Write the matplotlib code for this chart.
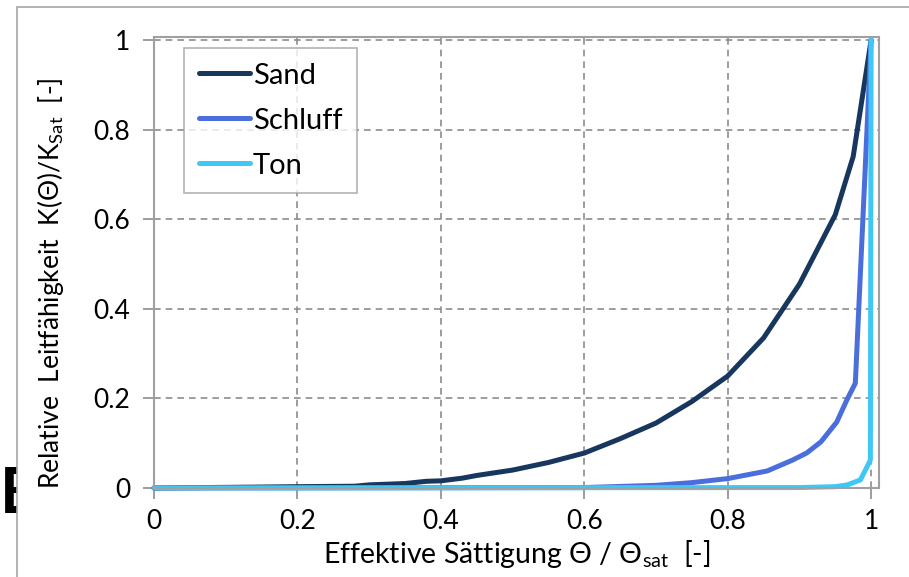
import matplotlib
matplotlib.use("Agg")
import matplotlib.pyplot as plt
from matplotlib.patches import Rectangle

plt.rcParams['font.family'] = ['Lato', 'DejaVu Sans']

# Data
sand_x = [0, 0.14, 0.2, 0.28, 0.3, 0.35, 0.38, 0.4, 0.43, 0.45, 0.5, 0.55, 0.6,
          0.65, 0.7, 0.75, 0.8, 0.85, 0.9, 0.95, 0.975, 1.0]
sand_y = [0, 0.002, 0.003, 0.004, 0.007, 0.01, 0.015, 0.016, 0.022, 0.028, 0.04,
          0.057, 0.078, 0.11, 0.145, 0.193, 0.25, 0.335, 0.455, 0.61, 0.74, 1.0]
schluff_x = [0, 0.6, 0.7, 0.75, 0.8, 0.855, 0.89, 0.91, 0.93, 0.952, 0.966, 0.978, 1.0]
schluff_y = [0, 0.001, 0.006, 0.012, 0.021, 0.038, 0.062, 0.078, 0.103, 0.147, 0.196, 0.234, 1.0]
ton_x = [0, 0.9, 0.95, 0.967, 0.985, 0.992, 0.999, 1.0]
ton_y = [0, 0.001, 0.003, 0.007, 0.018, 0.04, 0.0625, 1.0]

series_names = ['Sand', 'Schluff', 'Ton']
colors = ['#17375E', '#4A6FDC', '#3FC8F6']
ticks = [0, 0.2, 0.4, 0.6, 0.8, 1.0]
tick_labels = ['0', '0.2', '0.4', '0.6', '0.8', '1']

W, H = 909, 577
fig = plt.figure(figsize=(W / 100, H / 100), dpi=100)

# stray glyph at the far left, partly covered by the chart frame
fig.text(0 / W, 1 - 513 / H, 'E', fontsize=46, fontweight='bold', color='black',
         family='Lato', ha='left', va='baseline', zorder=-3)
# outer chart frame
fig.patches.append(Rectangle((17 / W, -0.1), 1.2, 1 - 7 / H + 0.1,
                             transform=fig.transFigure, facecolor='white',
                             edgecolor='#A6A6A6', linewidth=1.2, zorder=-2))

ax = fig.add_axes([154 / W, (H - 488) / H, (879 - 154) / W, (488 - 37) / H])
ax.set_facecolor('none')

for xs, ys, c, n in zip([sand_x, schluff_x, ton_x], [sand_y, schluff_y, ton_y],
                        colors, series_names):
    ax.plot(xs, ys, color=c, lw=3.6, label=n, solid_capstyle='round',
            solid_joinstyle='round', clip_on=False)

ax.set_xlim(0, 1.011)
ax.set_ylim(0, 1.007)
ax.set_xticks(ticks)
ax.set_xticklabels(tick_labels)
ax.set_yticks(ticks)
ax.set_yticklabels(tick_labels)
ax.tick_params(axis='both', direction='out', length=8, width=1.2, color='#8C8C8C',
               labelsize=19, labelcolor='black')
ax.tick_params(axis='x', pad=7)
ax.tick_params(axis='y', pad=9)

for x in ticks[1:]:
    ax.axvline(x, color='#8C8C8C', lw=1.2, ls=(0, (4, 3)), zorder=0.5)
for y in ticks[1:]:
    ax.axhline(y, color='#8C8C8C', lw=1.2, ls=(0, (4, 3)), zorder=0.5)

for s in ax.spines.values():
    s.set_color('#A0A0A0')
    s.set_linewidth(1.5)

ax.set_xlabel('Effektive Sättigung Θ / Θ$_{\\mathregular{sat}}$  [-]', fontsize=20.5, labelpad=3)
ax.set_ylabel('Relative  Leitfähigkeit  K(Θ)/K$_{\\mathregular{Sat}}$  [-]', fontsize=19, labelpad=10)
ax.yaxis.set_label_coords(-0.121, 0.455)

leg = ax.legend(loc='upper left', bbox_to_anchor=(30 / 725, (488 - 48) / 451),
                fontsize=21, frameon=True, fancybox=False, handlelength=1.75,
                handletextpad=0.1, labelspacing=0.65, borderpad=0.5,
                borderaxespad=0)
leg.get_frame().set_edgecolor('#A0A0A0')
leg.get_frame().set_linewidth(1.2)

fig.savefig('out.png', dpi=100)
